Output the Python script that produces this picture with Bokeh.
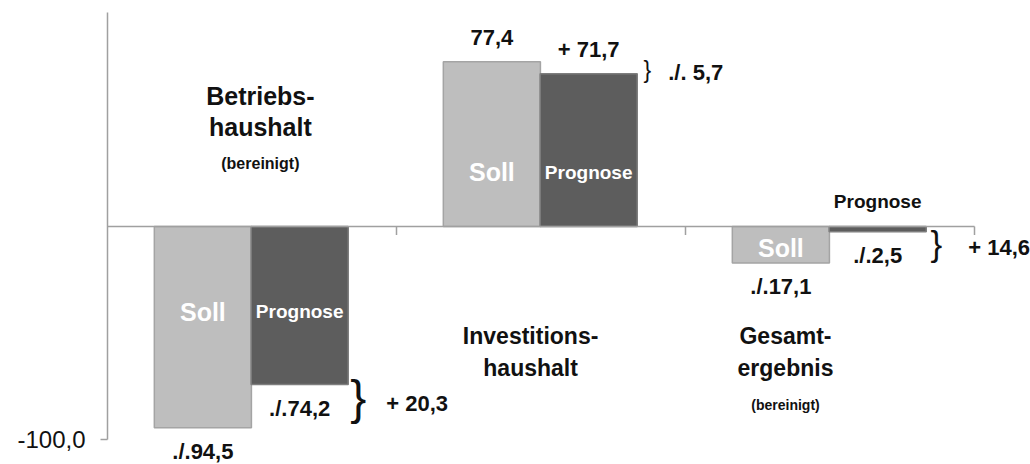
from bokeh.plotting import figure
from bokeh.models import Range1d, LinearAxis, FixedTicker, ColumnDataSource
from bokeh.embed import file_html
from bokeh.resources import INLINE
from bokeh.core.properties import value

# ---------------- data ----------------
categories = ["Betriebshaushalt", "Investitionshaushalt", "Gesamtergebnis"]
cat_lines = [["Betriebs-", "haushalt"], ["Investitions-", "haushalt"], ["Gesamt-", "ergebnis"]]
cat_notes = ["(bereinigt)", "", "(bereinigt)"]
series = ["Soll", "Prognose"]
soll = [-94.5, 77.4, -17.1]
prognose = [-74.2, 71.7, -2.5]
y_ticks = [-100]
y_tick_labels = ["-100,0"]

# ---------------- helpers ----------------
def de(v):
    return f"{abs(v):.1f}".replace(".", ",")

def soll_fmt(v):
    return "./." + de(v) if v < 0 else de(v)

def prog_fmt(v):
    return "./." + de(v) if v < 0 else "+ " + de(v)

def diff_fmt(d):
    return "+ " + de(d) if d > 0 else "./. " + de(d)

diffs = [round(p_ - s_, 1) for s_, p_ in zip(soll, prognose)]

# ---------------- layout / style ----------------
W, H = 1030, 464
LEFT = 107                # frame left (y axis position), px
ZERO = 226                # zero line, px from top
PX = 2.13                 # pixels per data unit on y
CAT_PX = 289              # pixels per category
FONT = value("Liberation Sans")
SOLL_FILL, SOLL_LINE = "#BEBEBE", "#A4A4A4"
PROG_FILL, PROG_LINE = "#5D5D5D", "#7E7E7E"
AXIS_COLOR = "#A0A0A0"
TXT = "#111111"
BAR_W = 0.336
SOLL_POS, PROG_POS = 0.330, 0.665
n = len(categories)

p = figure(width=W, height=H,
           x_range=Range1d(0, (W - LEFT) / CAT_PX),
           y_range=Range1d(-(H - ZERO) / PX, ZERO / PX),
           output_backend="svg", toolbar_location=None,
           x_axis_location=None, y_axis_location=None,
           min_border_left=LEFT, min_border_right=0,
           min_border_top=0, min_border_bottom=0)
p.outline_line_color = None
p.grid.grid_line_color = None
p.background_fill_color = "white"
p.border_fill_color = "white"

yaxis = LinearAxis(bounds=(-100, 100.5),
                   ticker=FixedTicker(ticks=y_ticks),
                   major_label_overrides={t: l for t, l in zip(y_ticks, y_tick_labels)},
                   axis_line_color=AXIS_COLOR, axis_line_width=1.5,
                   major_tick_line_color=AXIS_COLOR, major_tick_line_width=1.5,
                   major_tick_out=7, major_tick_in=0,
                   minor_tick_line_color=None,
                   major_label_text_font="Liberation Sans",
                   major_label_text_font_size="24px",
                   major_label_text_color=TXT,
                   major_label_standoff=15)
p.add_layout(yaxis, "left")

# bars
xs_soll = [i + SOLL_POS for i in range(n)]
xs_prog = [i + PROG_POS for i in range(n)]
p.vbar(x=xs_soll, width=BAR_W, top=soll, bottom=0,
       fill_color=SOLL_FILL, line_color=SOLL_LINE, line_width=1.5)
p.vbar(x=xs_prog, width=BAR_W, top=prognose, bottom=0,
       fill_color=PROG_FILL, line_color=PROG_LINE, line_width=1.5)

# zero line + category ticks
p.segment(x0=[0], y0=[0], x1=[n], y1=[0], line_color=AXIS_COLOR, line_width=1.5)
p.segment(x0=list(range(1, n + 1)), y0=[0] * n, x1=list(range(1, n + 1)),
          y1=[-4.0] * n, line_color=AXIS_COLOR, line_width=1.5)

# value labels
VAL_OFF = 11.3
val_src = ColumnDataSource(dict(
    x=xs_soll + xs_prog,
    y=[v + (VAL_OFF if v > 0 else -VAL_OFF) for v in soll + prognose],
    t=[soll_fmt(v) for v in soll] + [prog_fmt(v) for v in prognose]))
p.text(x="x", y="y", text="t", source=val_src, text_font=FONT,
       text_font_style="bold", text_font_size="22px", text_color=TXT,
       text_align="center", text_baseline="middle")

# differences: brace + label
diff_dy = [-3, 5, 0]          # px nudges
diff_dx = [38, 31, 42]        # px from bar edge to label
right_edge = [x + BAR_W / 2 for x in xs_prog]
mids = [(s_ + p_) / 2 for s_, p_ in zip(soll, prognose)]
bfs = [max(abs(d) * PX * 1.12, 23) for d in diffs]
brace_src = ColumnDataSource(dict(
    x=right_edge, y=mids, t=["}"] * n,
    fs=[f"{f:.0f}px" for f in bfs],
    dy=[dy - 0.11 * f for dy, f in zip(diff_dy, bfs)]))
p.text(x="x", y="y", text="t", source=brace_src, text_font=FONT,
       text_font_style="normal", text_font_size="fs", text_color=TXT,
       text_align="center", text_baseline="middle", x_offset=10, y_offset="dy")
diff_src = ColumnDataSource(dict(x=right_edge, y=mids, t=[diff_fmt(d) for d in diffs],
                                 dx=diff_dx, dy=diff_dy))
p.text(x="x", y="y", text="t", source=diff_src, text_font=FONT,
       text_font_style="bold", text_font_size="22px", text_color=TXT,
       text_align="left", text_baseline="middle", x_offset="dx", y_offset="dy")

# series labels in/near bars
inner_y = [-40.0, 25.5, -10.0]
lab_x, lab_y, lab_t, lab_c, lab_fs = [], [], [], [], []
for i in range(n):
    for name, xs, vals, fs in (("Soll", xs_soll, soll, "25px"),
                               ("Prognose", xs_prog, prognose, "19px")):
        v = vals[i]
        lab_x.append(xs[i])
        lab_t.append(name)
        lab_fs.append(fs)
        if abs(v) < 5:
            lab_y.append(11.7)
            lab_c.append(TXT)
        else:
            lab_y.append(inner_y[i])
            lab_c.append("white")
lab_src = ColumnDataSource(dict(x=lab_x, y=lab_y, t=lab_t, c=lab_c, fs=lab_fs))
p.text(x="x", y="y", text="t", source=lab_src, text_font=FONT,
       text_font_style="bold", text_font_size="fs", text_color="c",
       text_align="center", text_baseline="middle")

# category labels
cat_x = [0.529, 1.464, 2.346]
cat_y = [61.5, -51.2, -51.2]
cat_fs = ["25px", "23px", "23px"]
note_fs = ["16px", "14px", "14px"]
line_step = [14.6, 15.0, 15.0]
note_gap = [17.3, 17.8, 17.8]
cx, cy, ct, cf = [], [], [], []
for i in range(n):
    for k, line in enumerate(cat_lines[i]):
        cx.append(cat_x[i]); cy.append(cat_y[i] - k * line_step[i])
        ct.append(line); cf.append(cat_fs[i])
    if cat_notes[i]:
        cx.append(cat_x[i])
        cy.append(cat_y[i] - (len(cat_lines[i]) - 1) * line_step[i] - note_gap[i])
        ct.append(cat_notes[i]); cf.append(note_fs[i])
cat_src = ColumnDataSource(dict(x=cx, y=cy, t=ct, fs=cf))
p.text(x="x", y="y", text="t", source=cat_src, text_font=FONT,
       text_font_style="bold", text_font_size="fs", text_color=TXT,
       text_align="center", text_baseline="middle")

open("out.html", "w").write(file_html(p, INLINE))
